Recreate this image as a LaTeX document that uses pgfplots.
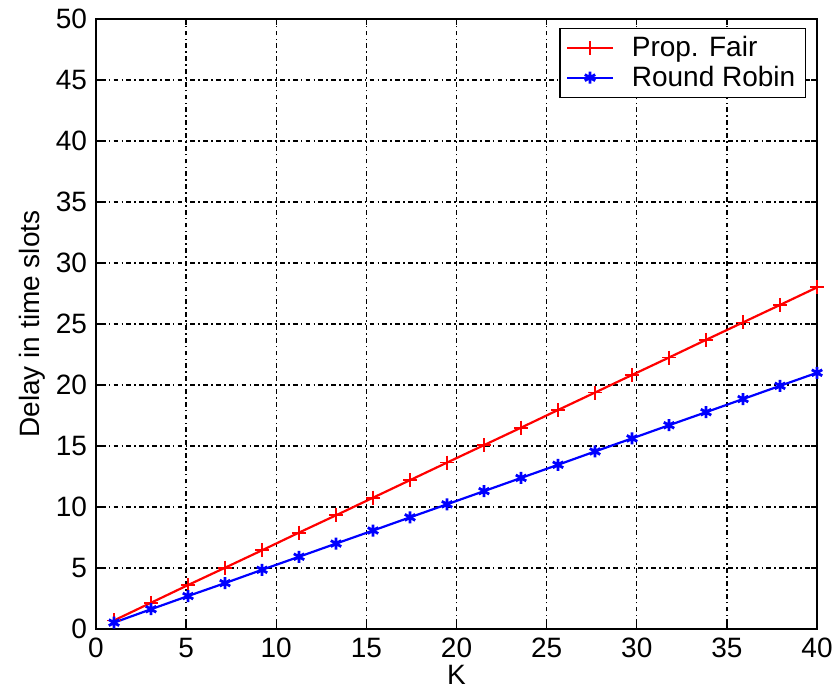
\documentclass[border=0pt]{standalone}
\usepackage{pgfplots}
\pgfplotsset{compat=1.18}
\usepackage{fontspec}
\setmainfont{Liberation Sans}
\begin{document}
\begin{tikzpicture}
\begin{axis}[
  scale only axis,
  width=360.5pt, height=305pt,
  xmin=0, xmax=40, ymin=0, ymax=50,
  xtick={0,5,...,40}, ytick={0,5,...,50},
  tick align=inside,
  major tick length=3pt,
  axis line style={line width=0.9pt},
  every tick/.style={black, line width=0.7pt},
  grid=major,
  major grid style={black, line width=0.7pt, dash pattern=on 0.8pt off 1.6pt on 2.4pt off 1.6pt},
  /pgf/number format/assume math mode=true,
  tick label style={font=\fontsize{14}{16}\selectfont},
  label style={font=\fontsize{14}{16}\selectfont},
  xlabel={K},
  ylabel={Delay in time slots},
  xlabel style={at={(axis description cs:0.5,-0.0754)}, anchor=center},
  ylabel style={at={(axis description cs:-0.0888,0.5)}, anchor=center},
  yticklabel style={xshift=-1pt},
  xticklabel style={yshift=-1pt},
  legend style={at={(rel axis cs:1,1)}, anchor=north east, xshift=-5.5pt, yshift=-4.5pt,
    font=\fontsize{14}{16}\selectfont, draw=black, line width=0.7pt,
    inner xsep=3pt, inner ysep=2pt, row sep=-1pt, column sep=7pt,
    cells={anchor=west}},
  legend image code/.code={
    \draw[mark repeat=2,mark phase=2,#1] plot coordinates {(0cm,0cm) (0.4cm,0cm) (0.8cm,0cm)};},
  clip=false,
]
\addplot[red, line width=1.1pt, mark=+, mark size=3.5pt, mark options={line width=0.9pt}] coordinates {
(1,0.70) (3.053,2.15) (5.105,3.60) (7.158,5.02) (9.211,6.45) (11.263,7.90) (13.316,9.32)
(15.368,10.76) (17.421,12.20) (19.474,13.64) (21.526,15.07) (23.579,16.50) (25.632,17.95)
(27.684,19.38) (29.737,20.82) (31.789,22.25) (33.842,23.70) (35.895,25.13) (37.947,26.56) (40,28.00)
};
\addlegendentry{Prop. Fair}
\addplot[blue, line width=1.1pt, mark=asterisk, mark size=3pt, mark options={line width=1.4pt}] coordinates {
(1,0.52) (3.053,1.62) (5.105,2.70) (7.158,3.76) (9.211,4.85) (11.263,5.92) (13.316,7.00)
(15.368,8.07) (17.421,9.15) (19.474,10.22) (21.526,11.30) (23.579,12.38) (25.632,13.46)
(27.684,14.55) (29.737,15.62) (31.789,16.70) (33.842,17.77) (35.895,18.85) (37.947,19.93) (40,21.00)
};
\addlegendentry{Round Robin}
\coordinate (bl) at (rel axis cs:0,0);
\coordinate (tr) at (rel axis cs:1,1);
\end{axis}
\pgfresetboundingbox
\useasboundingbox ([xshift=-48pt,yshift=-31pt]bl) rectangle ([xshift=11pt,yshift=9.5pt]tr);
\end{tikzpicture}
\end{document}
